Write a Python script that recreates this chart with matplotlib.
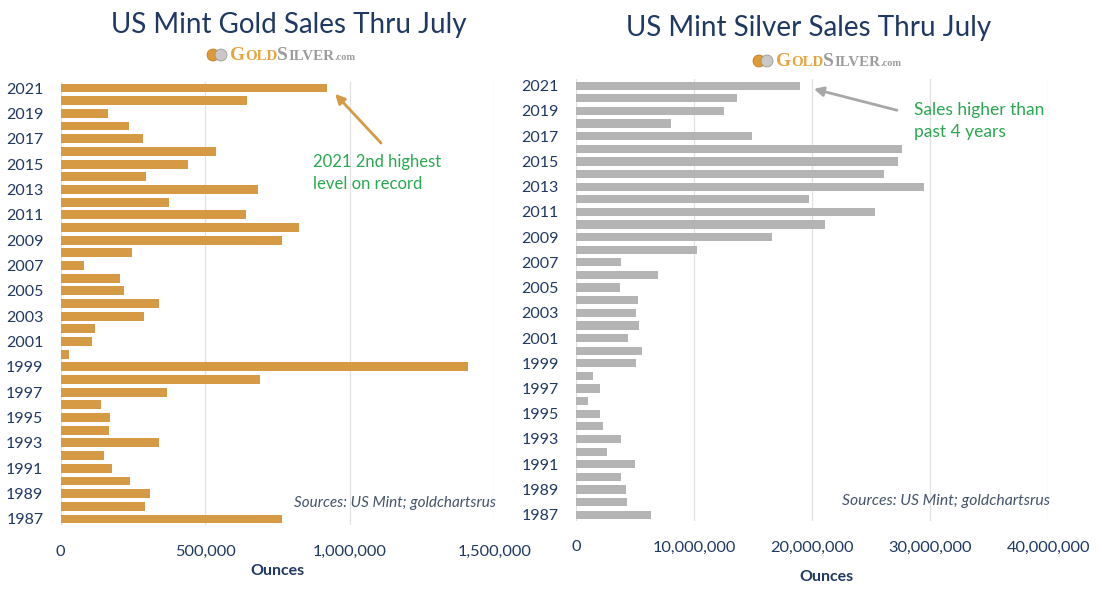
import matplotlib
matplotlib.use("Agg")
import matplotlib.pyplot as plt
from matplotlib.patches import Circle
from matplotlib.ticker import FuncFormatter

years = list(range(1987, 2022))
gold_oz = [766000, 292000, 308000, 240000, 176000, 150000, 341000, 167000, 171000, 139000,
           369000, 688000, 1411000, 30000, 109000, 119000, 289000, 341000, 220000, 204000,
           81000, 248000, 765000, 825000, 640000, 374000, 681000, 295000, 442000, 539000,
           284000, 235000, 162000, 644000, 922000]
silver_oz = [6.31e6, 4.33e6, 4.20e6, 3.82e6, 4.94e6, 2.64e6, 3.82e6, 2.23e6, 2.04e6, 0.99e6,
             2.04e6, 1.43e6, 5.03e6, 5.54e6, 4.43e6, 5.35e6, 5.03e6, 5.25e6, 3.69e6, 6.91e6,
             3.82e6, 10.22e6, 16.56e6, 21.11e6, 25.29e6, 19.68e6, 29.43e6, 26.11e6, 27.26e6, 27.58e6,
             14.90e6, 8.06e6, 12.52e6, 13.66e6, 18.95e6]
gold_ticks = [0, 500000, 1000000, 1500000]
silver_ticks = [0, 10000000, 20000000, 30000000, 40000000]
year_ticks = years[::2]

navy = "#1f3864"
green = "#2aa84f"
gold_col = "#d69a45"
silver_col = "#b4b4b4"
plt.rcParams['font.family'] = ['Lato', 'DejaVu Sans']

W, H = 1100, 589
fig = plt.figure(figsize=(W / 100, H / 100), dpi=100)


def px(x, y):
    return x / W, 1 - y / H


ax1 = fig.add_axes([60.7 / W, 1 - 525.3 / H, 433.5 / W, (525.3 - 81.7) / H])
ax2 = fig.add_axes([576.2 / W, 1 - 521.0 / H, 472.2 / W, (521.0 - 79.4) / H])

fmt = FuncFormatter(lambda v, p: f"{int(v):,}")
for ax, vals, col, ticks, bh in [(ax1, gold_oz, gold_col, gold_ticks, 0.7),
                                  (ax2, silver_oz, silver_col, silver_ticks, 0.65)]:
    ax.barh(years, vals, height=bh, color=col, zorder=2)
    ax.set_xlim(ticks[0], ticks[-1])
    ax.set_ylim(1986.5, 2021.5)
    ax.set_xticks(ticks)
    ax.xaxis.set_major_formatter(fmt)
    ax.set_yticks(year_ticks)
    ax.grid(axis='x', color='#e0e0e0', lw=0.9, zorder=0)
    for s in ax.spines.values():
        s.set_visible(False)
    ax.tick_params(axis='y', length=0, pad=12.5, labelsize=11.5, labelcolor=navy)
    ax.tick_params(axis='x', length=0, pad=14, labelsize=11.8, labelcolor=navy)

ax1.set_xlabel('Ounces', fontsize=11.5, fontweight='bold', color=navy, labelpad=4)
ax2.set_xlabel('Ounces', fontsize=11.5, fontweight='bold', color=navy, labelpad=8)
ax2.xaxis.set_label_coords(0.529, -0.11)

# titles
fig.text(*px(289, 25), 'US Mint Gold Sales Thru July', fontsize=20, color=navy,
         ha='center', va='center')
fig.text(*px(809, 28), 'US Mint Silver Sales Thru July', fontsize=20, color=navy,
         ha='center', va='center')


# GoldSilver.com logo built from text pieces
def logo(x0, yc):
    r = 6
    fig.add_artist(Circle((x0 + r, H - yc), r, transform=None, facecolor='#e09a35',
                          edgecolor='#b87420', lw=0.5))
    fig.add_artist(Circle((x0 + 2 * r + 2, H - yc), r, transform=None, facecolor='#c8c8c8',
                          edgecolor='#909090', lw=0.5))
    renderer = fig.canvas.get_renderer()
    x = x0 + 3 * r + 5
    pieces = [('G', 14, '#e8a33c'), ('OLD', 10.8, '#e8a33c'),
              ('S', 14, '#9c9c9c'), ('ILVER', 10.8, '#9c9c9c'), ('.com', 7.5, '#9c9c9c')]
    for s, fs, c in pieces:
        t = fig.text(x / W, 1 - (yc + 5) / H, s, fontsize=fs, color=c, fontweight='bold',
                     family='Liberation Serif', ha='left', va='baseline')
        bb = t.get_window_extent(renderer)
        x += bb.width


logo(207, 55)
logo(753, 61)

# annotations
ax1.annotate('', xy=(943000, 2020.7), xytext=(1115000, 2016.5),
             arrowprops=dict(arrowstyle='-|>', color='#d69a45', lw=2, mutation_scale=14))
ax1.text(874000, 2014.3, '2021 2nd highest\nlevel on record', color=green, fontsize=12,
         ha='left', va='center', linespacing=1.4)
ax2.annotate('', xy=(19.9e6, 2020.8), xytext=(27.4e6, 2019.0),
             arrowprops=dict(arrowstyle='-|>', color='#a8a8a8', lw=2, mutation_scale=14))
ax2.text(28.6e6, 2018.2, 'Sales higher than\npast 4 years', color=green, fontsize=12.5,
         ha='left', va='center', linespacing=1.4)

ax1.text(1505000, 1988.25, 'Sources: US Mint; goldchartsrus', style='italic', fontsize=11,
         color='#44546a', ha='right', va='center')
ax2.text(40.1e6, 1988.1, 'Sources: US Mint; goldchartsrus', style='italic', fontsize=11.3,
         color='#44546a', ha='right', va='center')

fig.savefig('out.png', dpi=100)
